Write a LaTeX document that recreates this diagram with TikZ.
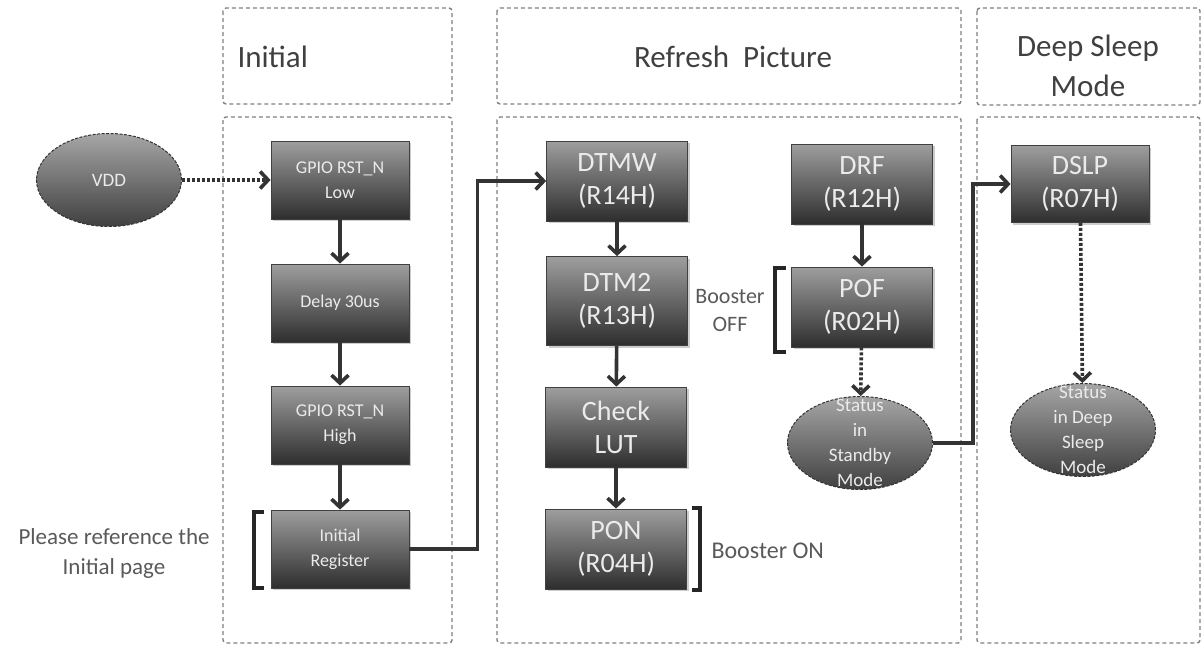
\documentclass[tikz,border=0pt]{standalone}
\usepackage{fontspec}
\setmainfont{Carlito}
\usetikzlibrary{arrows.meta,shapes.geometric,shadows}

\begin{document}
\begin{tikzpicture}[x=1pt,y=-1pt]
\tikzset{panneau/.style={draw=black!50, line width=1.4pt, dash pattern=on 4pt off 3pt, rounded corners=3pt}}
\tikzset{titre/.style={text=black!75, font=\fontsize{31}{40}\selectfont, align=center}}
\tikzset{boite/.style={draw=black!75, line width=0.8pt, top color=black!38, bottom color=black!82, text=black!8, align=center, inner sep=0pt, drop shadow={shadow xshift=2pt, shadow yshift=-2pt, fill=black!40, opacity=0.5}}}
\tikzset{grand/.style={boite, minimum width=141pt, minimum height=80pt, font=\fontsize{28}{33}\selectfont}}
\tikzset{petit/.style={boite, minimum width=138pt, minimum height=78pt, font=\fontsize{18}{25}\selectfont}}
\tikzset{ovale/.style={ellipse, draw=black!80, line width=1pt, dash pattern=on 3pt off 1.5pt, top color=black!35, bottom color=black!75, inner sep=0pt, minimum width=145pt, minimum height=93pt}}
\tikzset{ovaletexte/.style={text=black!8, align=center, font=\fontsize{19}{25}\selectfont}}
\tikzset{fleche/.style={draw=black!80, line width=3.6pt, -{Straight Barb[length=8pt,width=17pt]}}}
\tikzset{pointille/.style={fleche, dash pattern=on 3pt off 2pt}}
\tikzset{crochet/.style={draw=black!85, line width=3.4pt}}
\tikzset{note/.style={text=black!65, align=center}}
\useasboundingbox (0,0) rectangle (1204,645);
\draw[panneau] (223,8) rectangle (452,104);
\draw[panneau] (223,117) rectangle (452,643);
\draw[panneau] (497,8) rectangle (961,104);
\draw[panneau] (497,117) rectangle (961,643);
\draw[panneau] (977,8) rectangle (1200,105);
\draw[panneau] (977,117) rectangle (1200,643);
\node[titre, anchor=west] (TInit) at (234,57) {Initial};
\node[titre] (TRefresh) at (733,57) {Refresh\ \ Picture};
\node[titre] (TDeep) at (1088,66) {Deep Sleep\\Mode};
\node[ovale] (VDD) at (109,180) {};
\node[ovaletexte] at (VDD) {VDD};
\node[petit] (GPIOL) at (340,180) {GPIO RST\_N\\Low};
\node[petit] (DELAY) at (340,303) {Delay 30us};
\node[petit] (GPIOH) at (340,425) {GPIO RST\_N\\High};
\node[petit] (INITREG) at (340,549) {Initial\\Register};
\node[grand] (DTMW) at (617,181) {DTMW\\(R14H)};
\node[grand, minimum height=89pt] (DTM2) at (617,301) {DTM2\\(R13H)};
\node[grand] (LUT) at (616,427) {Check\\LUT};
\node[grand] (PON) at (616,549) {PON\\(R04H)};
\node[grand] (DRF) at (862,184) {DRF\\(R12H)};
\node[grand] (POF) at (862,307) {POF\\(R02H)};
\node[ovale] (STANDBY) at (860,443) {};
\node[ovaletexte] at (STANDBY) {Status\\in\\Standby\\Mode};
\node[grand, minimum width=138pt, minimum height=77pt] (DSLP) at (1080,184) {DSLP\\(R07H)};
\node[ovale] (DEEPST) at (1083,430) {};
\node[ovaletexte] at (DEEPST) {Status\\in Deep\\Sleep\\Mode};
\node[note, font=\fontsize{23}{30}\selectfont] (REF) at (114,553) {Please reference the\\Initial page};
\node[note, font=\fontsize{24}{30}\selectfont, anchor=west] (BON) at (708,551) {Booster ON};
\node[note, font=\fontsize{22}{28}\selectfont] (BOFF) at (730,311) {Booster\\OFF};
\draw[crochet] (264,512) -- (254,512) -- (254,588) -- (264,588);
\draw[crochet] (692,508) -- (700,508) -- (700,590) -- (692,590);
\draw[crochet] (786,268) -- (775,268) -- (775,352) -- (786,352);
\draw[pointille] (VDD) -- (GPIOL);
\draw[fleche] (GPIOL) -- (DELAY);
\draw[fleche] (DELAY) -- (GPIOH);
\draw[fleche] (GPIOH) -- (INITREG);
\draw[fleche] (INITREG.east) -- ++(68,0) |- (DTMW.west);
\draw[fleche] (DTMW) -- (DTM2);
\draw[fleche] (DTM2) -- (LUT);
\draw[fleche] (LUT) -- (PON);
\draw[fleche] (DRF) -- (POF);
\draw[pointille] (POF) -- (STANDBY);
\draw[fleche] (STANDBY.east) -- ++(40,0) |- (DSLP.west);
\draw[pointille] (DSLP) -- (DEEPST);
\end{tikzpicture}
\end{document}
